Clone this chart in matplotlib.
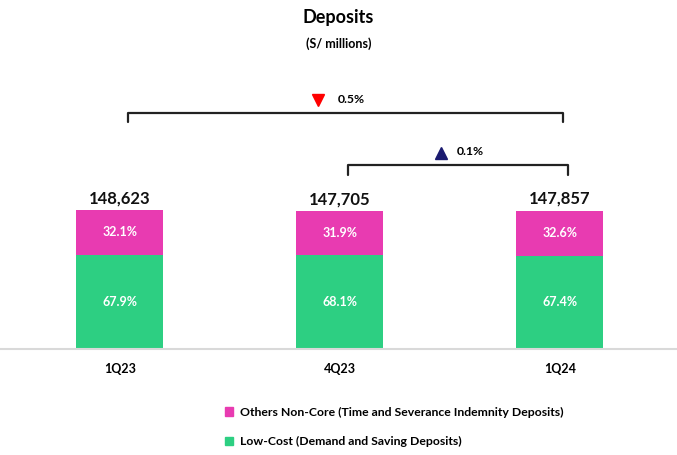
import matplotlib.pyplot as plt
from matplotlib.patches import Patch

quarters = ['1Q23', '4Q23', '1Q24']
totals = [148623, 147705, 147857]
low_cost_pct = [67.9, 68.1, 67.4]
non_core_pct = [32.1, 31.9, 32.6]
change_labels = ['0.5%', '0.1%']

green = '#2DCF82'
magenta = '#E83BB1'

plt.rcParams['font.family'] = ['Lato', 'DejaVu Sans']
plt.rcParams['font.weight'] = 'bold'

fig = plt.figure(figsize=(6.77, 4.55), dpi=100)
ax = fig.add_axes([0, 1 - 349 / 455, 1, 349 / 455])

x = range(len(quarters))
low = [t * p / 100 for t, p in zip(totals, low_cost_pct)]
core = [t * p / 100 for t, p in zip(totals, non_core_pct)]

ax.bar(x, low, width=0.395, color=green)
ax.bar(x, core, width=0.395, bottom=low, color=magenta)

for i in x:
    ax.text(i, low[i] / 2, f'{low_cost_pct[i]:.1f}%', ha='center', va='center',
            color='white', fontsize=9, fontweight='bold')
    ax.text(i, low[i] + core[i] / 2, f'{non_core_pct[i]:.1f}%', ha='center', va='center',
            color='white', fontsize=9, fontweight='bold')
    ax.text(i, totals[i] + 4000, f'{totals[i]:,}', ha='center', va='bottom',
            fontsize=12, fontweight='bold', color='#111111')
    ax.text(i, -0.04, quarters[i], transform=ax.get_xaxis_transform(), ha='center',
            va='top', fontsize=9, fontweight='bold')

ax.set_xlim(-0.545, 2.532)
ax.set_ylim(0, 373000)
ax.axis('off')
ax.axhline(0, color='#d9d9d9', lw=1.5, clip_on=False)

tr = ax.get_xaxis_transform()


def bracket(x0, x1, ytop, ybot):
    ax.plot([x0, x0, x1, x1], [ybot, ytop, ytop, ybot], color='#222222', lw=1.6,
            transform=tr, solid_joinstyle='round', solid_capstyle='round', clip_on=False)


bracket(0.036, 2.014, 0.676, 0.650)
bracket(1.036, 2.036, 0.527, 0.499)

ax.plot([0.9], [0.713], marker='v', color='#FF0000', ms=9, transform=tr, clip_on=False)
ax.text(0.99, 0.716, change_labels[0], transform=tr, ha='left', va='center', fontsize=8.8)
ax.plot([1.46], [0.563], marker='^', color='#1A1A70', ms=9, transform=tr, clip_on=False)
ax.text(1.53, 0.566, change_labels[1], transform=tr, ha='left', va='center', fontsize=8.8)

fig.text(0.5, 1 - 18 / 455, 'Deposits', ha='center', va='center', fontsize=13, fontweight='bold')
fig.text(0.5, 1 - 44 / 455, '(S/ millions)', ha='center', va='center', fontsize=9, fontweight='bold')

handles = [Patch(color=magenta, label='Others Non-Core (Time and Severance Indemnity Deposits)'),
           Patch(color=green, label='Low-Cost (Demand and Saving Deposits)')]
fig.legend(handles=handles, loc='upper left', bbox_to_anchor=(220 / 677, 1 - 402 / 455),
           frameon=False, fontsize=8.8, handlelength=0.7, handleheight=0.7,
           handletextpad=0.5, labelspacing=1.5, borderaxespad=0)

fig.savefig('out.png', dpi=100)
